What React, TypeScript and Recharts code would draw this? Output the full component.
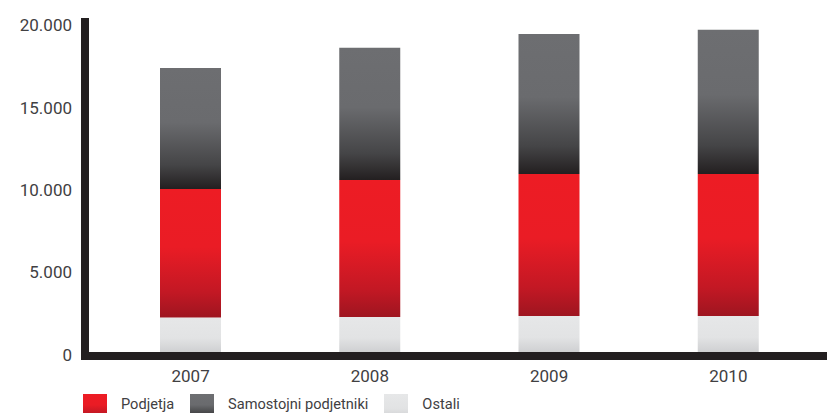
import React from 'react';
import { BarChart, Bar, XAxis, YAxis, Legend } from 'recharts';

const years = ['2007', '2008', '2009', '2010'];
const ostali = [2080, 2120, 2180, 2180];
const podjetja = [7800, 8310, 8610, 8610];
const samostojni = [7340, 8010, 8490, 8740];
const yTicks = [0, 5000, 10000, 15000, 20000];

const data = years.map((y, i) => ({
  year: y,
  ostali: ostali[i],
  podjetja: podjetja[i],
  samostojni: samostojni[i],
}));

const FONT = 'Roboto, "Liberation Sans", sans-serif';
const TEXT = '#414042';
const AXIS = '#231f20';

const fmt = (v: number) => String(v).replace(/\B(?=(\d{3})+(?!\d))/g, '.');

const legendItems = [
  { name: 'Podjetja', bg: 'linear-gradient(to bottom, #ed1c24 0%, #ea1c25 45%, #c31824 80%, #9e1520 100%)' },
  { name: 'Samostojni podjetniki', bg: 'linear-gradient(to bottom, #6d6e71 0%, #6a6b6e 45%, #454547 80%, #231f20 100%)' },
  { name: 'Ostali', bg: 'linear-gradient(to bottom, #e6e7e8 0%, #e2e3e4 60%, #cfd0d2 100%)' },
];

const LegendContent = () => (
  <div style={{ display: 'flex', alignItems: 'flex-start', fontFamily: FONT, fontSize: 14.6, color: TEXT, lineHeight: '20px' }}>
    {legendItems.map((it) => (
      <div key={it.name} style={{ display: 'flex', alignItems: 'flex-start', marginRight: 16 }}>
        <div style={{ width: 24, height: 24, background: it.bg, marginRight: 14 }} />
        <span style={{ whiteSpace: 'nowrap' }}>{it.name}</span>
      </div>
    ))}
  </div>
);

export default function App() {
  return (
    <div style={{ position: 'absolute', left: 0, top: 0, width: 827, height: 413, overflow: 'hidden', background: '#fff' }}>
      <BarChart
        width={827}
        height={413}
        data={data}
        margin={{ top: 18, right: 0, left: 0, bottom: 27 }}
        barCategoryGap={0}
      >
        <defs>
          <linearGradient id="gRed" x1="0" y1="0" x2="0" y2="1">
            <stop offset="0%" stopColor="#ed1c24" />
            <stop offset="45%" stopColor="#ea1c25" />
            <stop offset="80%" stopColor="#c31824" />
            <stop offset="100%" stopColor="#9e1520" />
          </linearGradient>
          <linearGradient id="gGray" x1="0" y1="0" x2="0" y2="1">
            <stop offset="0%" stopColor="#6d6e71" />
            <stop offset="45%" stopColor="#6a6b6e" />
            <stop offset="80%" stopColor="#454547" />
            <stop offset="100%" stopColor="#231f20" />
          </linearGradient>
          <linearGradient id="gLight" x1="0" y1="0" x2="0" y2="1">
            <stop offset="0%" stopColor="#e6e7e8" />
            <stop offset="60%" stopColor="#e2e3e4" />
            <stop offset="100%" stopColor="#cfd0d2" />
          </linearGradient>
        </defs>
        <XAxis
          dataKey="year"
          height={30}
          padding={{ left: 16, right: 9 }}
          axisLine={{ stroke: AXIS, strokeWidth: 8, strokeLinecap: 'square' }}
          tickLine={false}
          tickSize={0}
          tickMargin={14}
          tick={{ fill: TEXT, fontSize: 17, fontFamily: FONT }}
        />
        <YAxis
          width={85}
          domain={[-250, 20250]}
          ticks={yTicks}
          interval={0}
          tickFormatter={fmt}
          axisLine={{ stroke: AXIS, strokeWidth: 8 }}
          tickLine={false}
          tickSize={0}
          tickMargin={13}
          tick={{ fill: TEXT, fontSize: 17, fontFamily: FONT, dy: 3 }}
        />
        <Legend
          layout="horizontal"
          verticalAlign="middle"
          align="center"
          content={<LegendContent />}
          wrapperStyle={{ left: 83, top: 394, width: 700, height: 24 }}
        />
        <Bar dataKey="ostali" name="Ostali" stackId="a" barSize={61} fill="url(#gLight)" isAnimationActive={false} />
        <Bar dataKey="podjetja" name="Podjetja" stackId="a" barSize={61} fill="url(#gRed)" isAnimationActive={false} />
        <Bar dataKey="samostojni" name="Samostojni podjetniki" stackId="a" barSize={61} fill="url(#gGray)" isAnimationActive={false} />
      </BarChart>
    </div>
  );
}
